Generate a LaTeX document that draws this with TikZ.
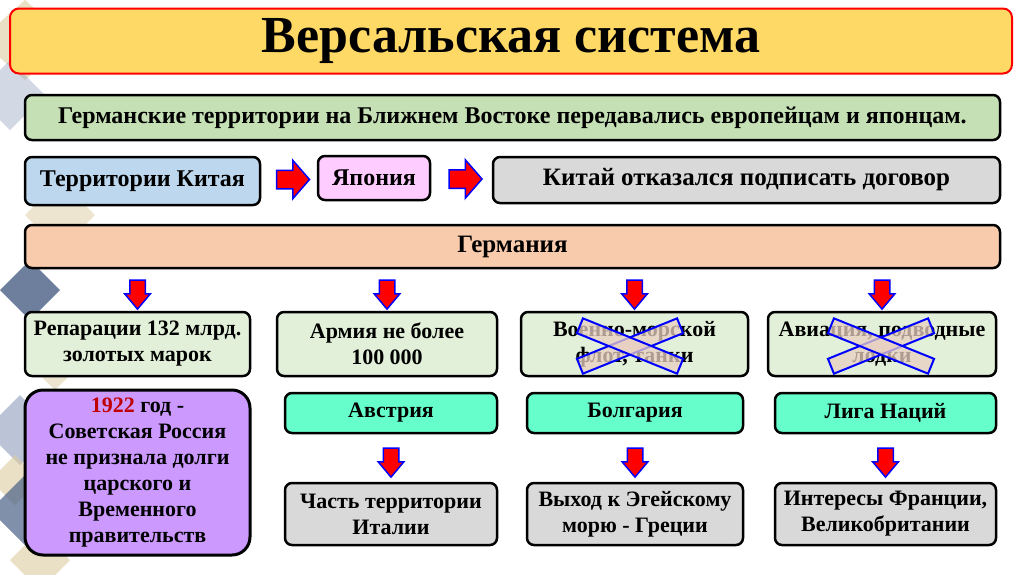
\documentclass[tikz,border=0pt]{standalone}
\usepackage{fontspec}
\setmainfont{Liberation Serif}
\usetikzlibrary{shapes.arrows,calc}

\definecolor{titlefill}{HTML}{FFD966}
\definecolor{barfill}{HTML}{C5E0B4}
\definecolor{chinafill}{HTML}{BDD7EE}
\definecolor{japanfill}{HTML}{FFCCFF}
\definecolor{greyfill}{HTML}{D9D9D9}
\definecolor{peachfill}{HTML}{F8CBAD}
\definecolor{rowfill}{HTML}{E2F0D9}
\definecolor{ussrfill}{HTML}{CC99FF}
\definecolor{tealfill}{HTML}{66FFCC}
\definecolor{crossfill}{HTML}{E9CFC2}
\definecolor{yearred}{HTML}{C00000}
\definecolor{decotan}{HTML}{DCCBA0}
\definecolor{decoblue}{HTML}{4A5F86}
\definecolor{decogrey}{HTML}{8E9DBB}

\tikzset{
  box/.style={draw=black, line width=2.5pt, rounded corners=7pt, align=center,
    inner sep=0pt, font=\bfseries\fontsize{22}{26}\selectfont},
  rarrow/.style={single arrow, draw=blue, line width=1.5pt, fill=red,
    inner sep=8.5pt, minimum width=0pt, minimum height=33pt,
    single arrow head extend=10pt, single arrow tip angle=98},
  darrow/.style={single arrow, draw=blue, line width=1.5pt, fill=red,
    shape border rotate=270, inner sep=7pt, minimum width=0pt, minimum height=29pt,
    single arrow head extend=5pt, single arrow tip angle=80},
  crossbar/.style={draw=blue, line width=2pt, fill=crossfill, fill opacity=0.75,
    minimum width=108pt, minimum height=16pt, inner sep=0pt}
}

\begin{document}
\begin{tikzpicture}[x=1pt,y=-1pt]
\useasboundingbox (0,0) rectangle (1024,574);
% background diamonds
\fill[decotan, opacity=0.6] (25,0) -- (70,40) -- (25,80) -- (-20,40) -- cycle;
\fill[decogrey, opacity=0.4] (10,60) -- (45,95) -- (10,130) -- (-25,95) -- cycle;
\fill[decotan, opacity=0.5] (60,180) -- (95,215) -- (60,250) -- (25,215) -- cycle;
\fill[decoblue, opacity=0.8] (30,260) -- (60,290) -- (30,320) -- (0,290) -- cycle;
\fill[decotan, opacity=0.5] (55,330) -- (85,360) -- (55,390) -- (25,360) -- cycle;
\fill[decogrey, opacity=0.6] (20,395) -- (55,430) -- (20,465) -- (-15,430) -- cycle;
\fill[decotan, opacity=0.6] (15,455) -- (40,480) -- (15,505) -- (-10,480) -- cycle;
\fill[decoblue, opacity=0.7] (25,475) -- (60,510) -- (25,545) -- (-10,510) -- cycle;
\fill[decotan, opacity=0.6] (40,530) -- (70,560) -- (40,590) -- (10,560) -- cycle;

% title and top rows
\node[box, draw=red, line width=2pt, rounded corners=9pt, fill=titlefill,
  minimum width=1002pt, minimum height=65pt,
  font=\bfseries\fontsize{52}{60}\selectfont] (title) at (511,41) {Версальская система};
\node[box, fill=barfill, minimum width=975pt, minimum height=45pt,
  font=\bfseries\fontsize{24}{28}\selectfont] (german) at (512.5,117.5)
  {Германские территории на Ближнем Востоке передавались европейцам и японцам.};
\node[box, fill=chinafill, minimum width=235pt, minimum height=48pt,
  font=\bfseries\fontsize{24}{28}\selectfont] (china) at (142.5,181) {Территории Китая};
\node[box, fill=japanfill, minimum width=112pt, minimum height=44pt,
  font=\bfseries\fontsize{24}{28}\selectfont] (japan) at (374,178) {Япония};
\node[box, fill=greyfill, minimum width=507pt, minimum height=46pt,
  font=\bfseries\fontsize{25}{29}\selectfont] (refuse) at (746.5,180) {Китай отказался подписать договор};
\node[rarrow] (ar1) at ($(china.east)!0.5!(japan.west)$) {};
\node[rarrow] (ar2) at ($(japan.east)!0.5!(refuse.west)$) {};

% Germany
\node[box, fill=peachfill, minimum width=975pt, minimum height=43pt,
  font=\bfseries\fontsize{25}{29}\selectfont] (germany) at (512.5,246.5) {Германия};

\node[box, fill=rowfill, minimum width=225pt, minimum height=64pt] (repar) at (137.5,344)
  {Репарации 132 млрд.\\золотых марок};
\node[box, fill=rowfill, minimum width=220pt, minimum height=64pt] (army) at (387,344)
  {Армия не более\\100 000};
\node[box, fill=rowfill, minimum width=227pt, minimum height=64pt] (navy) at (634.5,344)
  {Военно-морской\\флот, танки};
\node[box, fill=rowfill, minimum width=228pt, minimum height=64pt] (air) at (882,344)
  {Авиация, подводные\\лодки};
\foreach \b in {repar,army,navy,air}
  \node[darrow] (d\b) at ($(germany.south -| \b.north)!0.5!(\b.north)$) {};

% crossed out
\node[crossbar, rotate=22] (navyxa) at (630,346) {};
\node[crossbar, rotate=-22] (navyxb) at (630,346) {};
\node[crossbar, rotate=22] (airxa) at (881,346) {};
\node[crossbar, rotate=-22] (airxb) at (881,346) {};

% lower part
\node[box, fill=ussrfill, line width=3pt, rounded corners=18pt,
  minimum width=225pt, minimum height=165pt] (ussr) at (137.5,472.5)
  {\textcolor{yearred}{1922} год -\\Советская Россия\\не признала долги\\царского и\\Временного\\правительств};

\node[box, fill=tealfill, minimum width=212pt, minimum height=40pt] (austria) at (391,413) {Австрия};
\node[box, fill=tealfill, minimum width=216pt, minimum height=40pt] (bulgaria) at (635,413) {Болгария};
\node[box, fill=tealfill, minimum width=221pt, minimum height=40pt] (league) at (885.5,413) {Лига Наций};

\node[box, fill=greyfill, minimum width=212pt, minimum height=62pt] (italy) at (391,514)
  {Часть территории\\Италии};
\node[box, fill=greyfill, minimum width=216pt, minimum height=62pt] (aegean) at (635,514)
  {Выход к Эгейскому\\морю - Греции};
\node[box, fill=greyfill, minimum width=221pt, minimum height=62pt] (interest) at (885.5,514)
  {Интересы Франции,\\Великобритании};

\node[darrow] (daustria) at ($(austria.south)!0.5!(italy.north)$) {};
\node[darrow] (dbulgaria) at ($(bulgaria.south)!0.5!(aegean.north)$) {};
\node[darrow] (dleague) at ($(league.south)!0.5!(interest.north)$) {};
\end{tikzpicture}
\end{document}
